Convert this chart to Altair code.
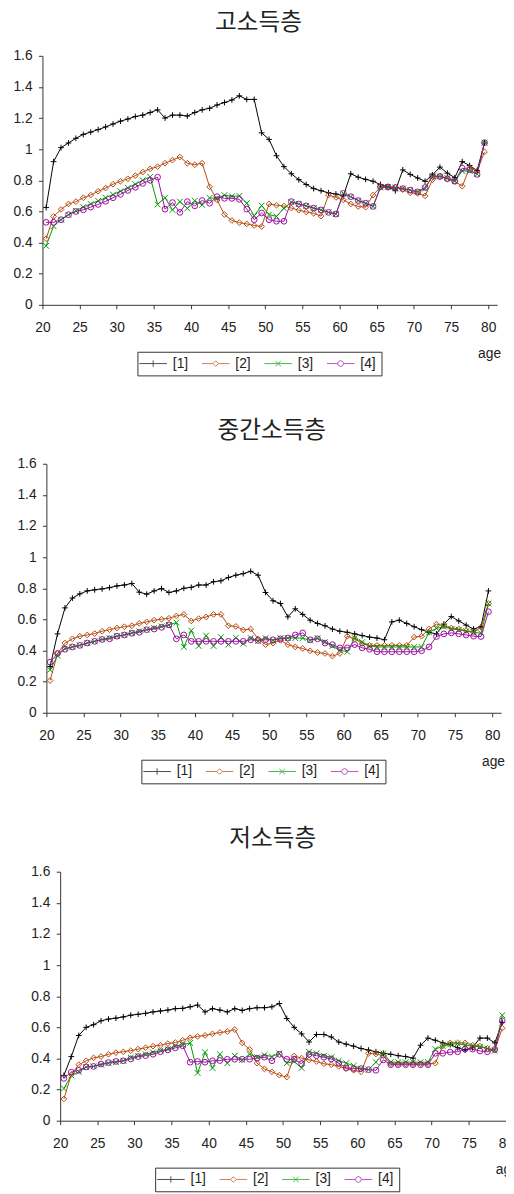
import altair as alt
import pandas as pd

AGES = list(range(20, 80))
SERIES = ["[1]", "[2]", "[3]", "[4]"]
COLORS = ["#000000", "#B8490F", "#009A00", "#9C0DA0"]
TITLES = ["고소득층", "중간소득층", "저소득층"]
X_TICKS = [20, 25, 30, 35, 40, 45, 50, 55, 60, 65, 70, 75, 80]
Y_TICKS = [0, 0.2, 0.4, 0.6, 0.8, 1.0, 1.2, 1.4, 1.6]

# panel 1 : 고소득층
P1_S1 = [0.625, 0.92, 1.01, 1.04, 1.07, 1.095, 1.11, 1.126, 1.143, 1.162,
         1.18, 1.194, 1.21, 1.219, 1.236, 1.253, 1.20, 1.219, 1.219, 1.213,
         1.236, 1.253, 1.263, 1.284, 1.30, 1.316, 1.343, 1.32, 1.32, 1.105,
         1.063, 0.958, 0.888, 0.842, 0.804, 0.773, 0.747, 0.733, 0.72, 0.712,
         0.70, 0.842, 0.82, 0.806, 0.794, 0.773, 0.758, 0.733, 0.867, 0.838,
         0.815, 0.794, 0.835, 0.885, 0.846, 0.817, 0.92, 0.895, 0.863, 1.04]
P1_S2 = [0.425, 0.568, 0.613, 0.648, 0.663, 0.688, 0.705, 0.73, 0.75, 0.775,
         0.794, 0.81, 0.83, 0.853, 0.874, 0.888, 0.91, 0.93, 0.95, 0.91,
         0.90, 0.91, 0.758, 0.674, 0.58, 0.542, 0.528, 0.52, 0.51, 0.503,
         0.648, 0.64, 0.635, 0.622, 0.608, 0.597, 0.588, 0.57, 0.705, 0.69,
         0.674, 0.648, 0.632, 0.627, 0.705, 0.758, 0.754, 0.754, 0.741, 0.72,
         0.716, 0.70, 0.804, 0.825, 0.81, 0.794, 0.762, 0.88, 0.859, 0.983]
P1_S3 = [0.379, 0.505, 0.547, 0.579, 0.604, 0.628, 0.648, 0.668, 0.688, 0.708,
         0.73, 0.752, 0.775, 0.80, 0.822, 0.645, 0.688, 0.61, 0.663, 0.62,
         0.669, 0.642, 0.687, 0.684, 0.705, 0.697, 0.70, 0.653, 0.572, 0.638,
         0.58, 0.568, 0.62, 0.66, 0.648, 0.636, 0.621, 0.61, 0.594, 0.583,
         0.716, 0.695, 0.67, 0.653, 0.632, 0.754, 0.758, 0.754, 0.747, 0.737,
         0.726, 0.747, 0.827, 0.825, 0.815, 0.794, 0.86, 0.86, 0.84, 1.042]
P1_S4 = [0.53, 0.53, 0.547, 0.579, 0.60, 0.61, 0.628, 0.645, 0.665, 0.688,
         0.71, 0.735, 0.755, 0.78, 0.80, 0.82, 0.615, 0.657, 0.594, 0.663,
         0.636, 0.67, 0.653, 0.695, 0.684, 0.684, 0.678, 0.615, 0.547, 0.59,
         0.547, 0.537, 0.537, 0.663, 0.648, 0.636, 0.621, 0.61, 0.594, 0.583,
         0.716, 0.695, 0.67, 0.653, 0.632, 0.758, 0.758, 0.754, 0.747, 0.737,
         0.726, 0.754, 0.827, 0.825, 0.81, 0.794, 0.878, 0.867, 0.838, 1.042]

# panel 2 : 중간소득층
P2_S1 = [0.297, 0.507, 0.674, 0.737, 0.764, 0.783, 0.79, 0.796, 0.804, 0.815,
         0.821, 0.831, 0.775, 0.762, 0.783, 0.798, 0.773, 0.783, 0.80, 0.806,
         0.821, 0.821, 0.842, 0.848, 0.869, 0.884, 0.894, 0.909, 0.884, 0.773,
         0.72, 0.702, 0.616, 0.668, 0.632, 0.595, 0.574, 0.559, 0.538, 0.524,
         0.517, 0.507, 0.496, 0.486, 0.48, 0.469, 0.584, 0.595, 0.574, 0.553,
         0.534, 0.517, 0.507, 0.57, 0.618, 0.59, 0.563, 0.538, 0.553, 0.783]
P2_S2 = [0.207, 0.381, 0.448, 0.475, 0.492, 0.50, 0.509, 0.524, 0.534, 0.545,
         0.553, 0.559, 0.574, 0.584, 0.595, 0.601, 0.607, 0.622, 0.632, 0.59,
         0.605, 0.616, 0.632, 0.632, 0.559, 0.555, 0.532, 0.538, 0.475, 0.438,
         0.448, 0.465, 0.438, 0.423, 0.413, 0.398, 0.387, 0.381, 0.364, 0.381,
         0.492, 0.475, 0.444, 0.433, 0.433, 0.433, 0.433, 0.433, 0.433, 0.486,
         0.492, 0.538, 0.57, 0.559, 0.545, 0.538, 0.528, 0.517, 0.549, 0.702]
P2_S3 = [0.276, 0.366, 0.413, 0.423, 0.433, 0.448, 0.459, 0.471, 0.48, 0.492,
         0.50, 0.513, 0.524, 0.534, 0.545, 0.555, 0.565, 0.58, 0.423, 0.528,
         0.429, 0.496, 0.429, 0.486, 0.438, 0.482, 0.444, 0.48, 0.461, 0.48,
         0.465, 0.48, 0.48, 0.48, 0.48, 0.465, 0.48, 0.454, 0.429, 0.402,
         0.392, 0.48, 0.454, 0.429, 0.423, 0.423, 0.423, 0.423, 0.423, 0.423,
         0.423, 0.517, 0.542, 0.553, 0.538, 0.534, 0.524, 0.517, 0.511, 0.702]
P2_S4 = [0.325, 0.381, 0.408, 0.423, 0.433, 0.448, 0.459, 0.471, 0.475, 0.492,
         0.50, 0.511, 0.517, 0.534, 0.538, 0.549, 0.565, 0.475, 0.50, 0.459,
         0.459, 0.459, 0.459, 0.459, 0.459, 0.459, 0.459, 0.469, 0.465, 0.469,
         0.469, 0.475, 0.48, 0.50, 0.513, 0.469, 0.475, 0.448, 0.438, 0.417,
         0.417, 0.438, 0.417, 0.408, 0.392, 0.392, 0.392, 0.392, 0.392, 0.392,
         0.398, 0.423, 0.49, 0.507, 0.513, 0.507, 0.50, 0.492, 0.49, 0.649]

# panel 3 : 저소득층
P3_S1 = [0.291, 0.412, 0.548, 0.60, 0.617, 0.642, 0.653, 0.659, 0.667, 0.678,
         0.684, 0.69, 0.699, 0.705, 0.711, 0.72, 0.722, 0.732, 0.743, 0.699,
         0.72, 0.711, 0.699, 0.72, 0.709, 0.72, 0.726, 0.726, 0.732, 0.753,
         0.657, 0.60, 0.558, 0.506, 0.554, 0.554, 0.538, 0.506, 0.492, 0.479,
         0.464, 0.454, 0.443, 0.433, 0.427, 0.418, 0.412, 0.402, 0.485, 0.531,
         0.517, 0.50, 0.489, 0.469, 0.454, 0.469, 0.531, 0.531, 0.50, 0.632]
P3_S2 = [0.14, 0.297, 0.36, 0.385, 0.404, 0.412, 0.427, 0.437, 0.443, 0.45,
         0.46, 0.469, 0.479, 0.485, 0.496, 0.502, 0.517, 0.533, 0.542, 0.548,
         0.558, 0.567, 0.573, 0.586, 0.50, 0.458, 0.37, 0.333, 0.314, 0.293,
         0.28, 0.416, 0.402, 0.391, 0.381, 0.366, 0.36, 0.349, 0.335, 0.324,
         0.314, 0.433, 0.429, 0.418, 0.366, 0.366, 0.366, 0.366, 0.366, 0.366,
         0.37, 0.481, 0.50, 0.50, 0.50, 0.485, 0.479, 0.464, 0.454, 0.594]
P3_S3 = [0.207, 0.291, 0.314, 0.345, 0.349, 0.36, 0.37, 0.376, 0.385, 0.406,
         0.416, 0.427, 0.439, 0.45, 0.46, 0.479, 0.489, 0.50, 0.307, 0.439,
         0.339, 0.427, 0.37, 0.418, 0.391, 0.427, 0.408, 0.422, 0.412, 0.433,
         0.37, 0.381, 0.339, 0.443, 0.433, 0.418, 0.408, 0.385, 0.37, 0.353,
         0.335, 0.328, 0.376, 0.433, 0.376, 0.376, 0.376, 0.376, 0.376, 0.376,
         0.46, 0.479, 0.49, 0.496, 0.485, 0.479, 0.475, 0.464, 0.45, 0.678]
P3_S4 = [0.272, 0.312, 0.324, 0.345, 0.349, 0.364, 0.374, 0.381, 0.385, 0.397,
         0.412, 0.418, 0.427, 0.443, 0.455, 0.468, 0.481, 0.376, 0.381, 0.376,
         0.385, 0.387, 0.395, 0.395, 0.395, 0.395, 0.402, 0.408, 0.385, 0.427,
         0.395, 0.395, 0.366, 0.427, 0.418, 0.408, 0.397, 0.37, 0.339, 0.335,
         0.335, 0.328, 0.324, 0.391, 0.36, 0.36, 0.36, 0.36, 0.36, 0.36,
         0.433, 0.433, 0.441, 0.443, 0.46, 0.46, 0.448, 0.443, 0.458, 0.642]

PANELS = [
    [P1_S1, P1_S2, P1_S3, P1_S4],
    [P2_S1, P2_S2, P2_S3, P2_S4],
    [P3_S1, P3_S2, P3_S3, P3_S4],
]

# styling
TITLE_DX = [-11.5, -2, -15]
SPACER = [1, 5, 18.2]
MARKERS = ["M-1,0H1M0,-1V1", "diamond", "M-1,-1L1,1M1,-1L-1,1", "circle"]
LEGEND_PATHS = [
    "M-3.5,0H3.5M0,-0.8V0.8",
    "M-3.5,0H-0.7M0.7,0H3.5M0,-0.7L0.7,0L0,0.7L-0.7,0Z",
    "M-3.5,0H3.5M-0.7,-0.7L0.7,0.7M0.7,-0.7L-0.7,0.7",
    "M-3.5,0H-0.75M0.75,0H3.5M0.75,0L0.53,0.53L0,0.75L-0.53,0.53L-0.75,0"
    "L-0.53,-0.53L0,-0.75L0.53,-0.53Z",
]
W, H = 462, 253
FONT = "Liberation Sans"


def make_panel(i):
    rows = []
    for name, vals in zip(SERIES, PANELS[i]):
        for a, v in zip(AGES, vals):
            rows.append({"age": a, "series": name, "value": v})
    df = pd.DataFrame(rows)

    y_axis = alt.Axis(values=Y_TICKS, format="~g", grid=False, ticks=True, tickSize=4,
                      tickColor="#333", tickWidth=1,
                      labelPadding=6.5, labelFlush=False, labelOverlap=False,
                      labelBound=False, labelSeparation=0, title=None)
    x_axis = alt.Axis(values=X_TICKS, grid=False, ticks=True, tickSize=4,
                      tickColor="#333", tickWidth=1, labelPadding=12,
                      labelFlush=False, labelOverlap=False, labelBound=False,
                      labelSeparation=0, title="age", titleX=465.5,
                      titleY=49.5, titleAlign="right", titleBaseline="middle",
                      titleFontSize=14, titleFontWeight="normal", titleFont=FONT,
                      titleColor="#222")

    xs = alt.Scale(domain=[20, 81.2], nice=False, zero=False)
    ys = alt.Scale(domain=[0, 1.6], nice=False)
    cscale = alt.Scale(domain=SERIES, range=COLORS)

    base = alt.Chart(df).transform_calculate(xpos="datum.age + 0.5")
    X = alt.X("xpos:Q", scale=xs, axis=x_axis)
    Y = alt.Y("value:Q", scale=ys, axis=y_axis)

    lines = base.mark_line(strokeWidth=1).encode(
        x=X, y=Y, color=alt.Color("series:N", scale=cscale, legend=None))
    points = base.mark_point(filled=False, strokeWidth=1, size=34, opacity=1).encode(
        x=X, y=Y,
        color=alt.Color("series:N", scale=cscale, legend=None),
        shape=alt.Shape("series:N", scale=alt.Scale(domain=SERIES, range=MARKERS), legend=None))

    leg = alt.Legend(title=None, orient="none", legendX=96.5, legendY=300.7,
                     direction="horizontal", columns=4, symbolSize=64,
                     symbolOffset=4, labelOffset=13, columnPadding=11.5, padding=5,
                     strokeColor="#333", fillColor="white", labelFont=FONT,
                     labelFontSize=14, labelColor="#222", symbolStrokeWidth=1,
                     symbolFillColor="white")
    dummy = base.transform_filter("false").mark_point(filled=False, strokeWidth=1, size=64).encode(
        x=X, y=Y,
        color=alt.Color("series:N", scale=cscale, legend=leg),
        shape=alt.Shape("series:N", scale=alt.Scale(domain=SERIES, range=LEGEND_PATHS), legend=leg))

    panel = alt.layer(lines, points, dummy).resolve_scale(
        color="independent", shape="independent").properties(
        width=W, height=H,
        title=alt.TitleParams(TITLES[i], font="Noto Sans CJK KR", fontSize=24,
                              fontWeight="normal", color="#222", dx=TITLE_DX[i],
                              offset=13.8, frame="group", anchor="middle"))

    spacer = alt.Chart(pd.DataFrame({"s": [0]})).mark_point(opacity=0, size=1).encode(
        x=alt.value(0), y=alt.value(0)).properties(width=SPACER[i], height=10)
    return alt.hconcat(spacer, panel, spacing=0)


chart = alt.vconcat(make_panel(0), make_panel(1), make_panel(2), spacing=43.5).properties(
    padding={"left": 3, "top": -6, "right": -13, "bottom": 0}
).configure_view(strokeWidth=0).configure_axis(
    labelFont=FONT, labelFontSize=14, labelColor="#222", domainColor="#333", domainWidth=1,
    labelOverlap=False
)

chart.save("out.html", embed_options={"renderer": "svg", "actions": False})
